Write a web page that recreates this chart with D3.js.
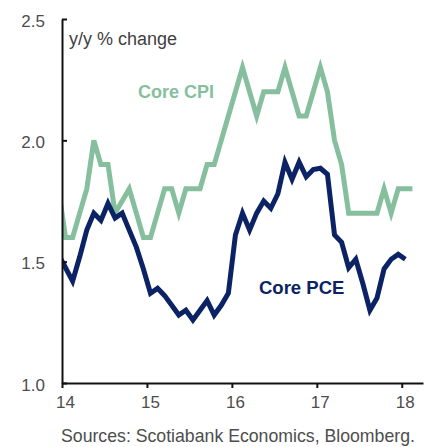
<!DOCTYPE html>
<html>
<head>
<meta charset="utf-8">
<script src="https://cdn.jsdelivr.net/npm/d3@7"></script>
<style>
  html, body { margin: 0; padding: 0; background: #fff; }
  svg { display: block; }
</style>
</head>
<body>
<div id="chart"></div>
<script>
// monthly y/y % change, first point is Dec 2013
const startYear = 13;
const startMonth = 11; // 0-based, December
const coreCpi = [
    1.8,
    1.6, 1.6, 1.7, 1.8, 2.0, 1.9, 1.9, 1.7, 1.75, 1.8, 1.7, 1.6,
    1.6, 1.7, 1.8, 1.8, 1.7, 1.8, 1.8, 1.8, 1.9, 1.9, 2.0, 2.1,
    2.2, 2.3, 2.2, 2.1, 2.2, 2.2, 2.2, 2.3, 2.2, 2.1, 2.1, 2.2,
    2.3, 2.2, 2.0, 1.9, 1.7, 1.7, 1.7, 1.7, 1.7, 1.8, 1.7, 1.8,
    1.8, 1.8
];
const corePce = [
    1.53,
    1.475, 1.42, 1.52, 1.63, 1.70, 1.67, 1.74, 1.68, 1.70, 1.63, 1.56, 1.47,
    1.37, 1.39, 1.36, 1.32, 1.28, 1.30, 1.26, 1.30, 1.34, 1.28, 1.32, 1.37,
    1.61, 1.70, 1.63, 1.70, 1.75, 1.72, 1.78, 1.91, 1.84, 1.91, 1.85, 1.88,
    1.885, 1.86, 1.61, 1.58, 1.475, 1.51, 1.41, 1.30, 1.35, 1.47, 1.51, 1.53,
    1.51
];
const yTicks = [1.0, 1.5, 2.0, 2.5];
const xTicks = [14, 15, 16, 17, 18];

const COLORS = { cpi: '#86bf9d', pce: '#0b2364', text: '#4d4d4d', axis: '#111' };
const FONT = "'Liberation Sans', Arial, sans-serif";

const width = 443, height = 447;
const plot = { left: 62, right: 423, top: 19, bottom: 383 };

const svg = d3.select('#chart').append('svg').attr('width', width).attr('height', height);

const x = d3.scaleLinear().domain([14, 18.25]).range([plot.left, plot.right]);
const y = d3.scaleLinear().domain([1.0, 2.5]).range([plot.bottom, plot.top]);

// month index -> fractional year, plotted mid-month
const toPoints = vals => vals.map((v, i) => ({
    t: startYear + (startMonth + i + 0.5) / 12,
    v
}));

svg.append('clipPath').attr('id', 'plotClip')
    .append('rect')
    .attr('x', plot.left).attr('y', 0)
    .attr('width', plot.right - plot.left).attr('height', plot.bottom);

const line = d3.line().x(d => x(d.t)).y(d => y(d.v));

const lines = svg.append('g').attr('clip-path', 'url(#plotClip)');
lines.append('path')
    .datum(toPoints(coreCpi))
    .attr('d', line)
    .attr('fill', 'none')
    .attr('stroke', COLORS.cpi)
    .attr('stroke-width', 5);
lines.append('path')
    .datum(toPoints(corePce))
    .attr('d', line)
    .attr('fill', 'none')
    .attr('stroke', COLORS.pce)
    .attr('stroke-width', 5);

// axes
const yAxis = svg.append('g')
    .attr('transform', `translate(${plot.left},0)`)
    .call(d3.axisLeft(y).tickValues(yTicks).tickFormat(d3.format('.1f'))
        .tickSizeInner(-5).tickSizeOuter(0).tickPadding(17));

const xAxis = svg.append('g')
    .attr('transform', `translate(0,${plot.bottom})`)
    .call(d3.axisBottom(x).tickValues(xTicks).tickFormat(d => d)
        .tickSizeInner(5).tickSizeOuter(0).tickPadding(8));

[yAxis, xAxis].forEach(a => {
    a.select('.domain').attr('stroke', COLORS.axis).attr('stroke-width', 2);
    a.selectAll('.tick line').attr('stroke', COLORS.axis).attr('stroke-width', 2);
    a.selectAll('.tick text')
        .attr('fill', COLORS.text)
        .attr('font-family', FONT)
        .attr('font-size', 17);
});
yAxis.selectAll('.tick text').attr('dy', '0.42em');
xAxis.selectAll('.tick text').attr('dx', 3);

// labels
svg.append('text')
    .attr('x', 69).attr('y', 45)
    .attr('fill', '#3f3f3f')
    .attr('font-family', FONT).attr('font-size', 18)
    .text('y/y % change');

svg.append('text')
    .attr('x', 138).attr('y', 98)
    .attr('fill', COLORS.cpi)
    .attr('font-family', FONT).attr('font-size', 18).attr('font-weight', 700)
    .text('Core CPI');

svg.append('text')
    .attr('x', 259).attr('y', 294)
    .attr('fill', COLORS.pce)
    .attr('font-family', FONT).attr('font-size', 18.5).attr('font-weight', 700)
    .text('Core PCE');

svg.append('text')
    .attr('x', 61).attr('y', 441.5)
    .attr('fill', COLORS.text)
    .attr('font-family', FONT).attr('font-size', 17.7)
    .text('Sources: Scotiabank Economics, Bloomberg.');
</script>
</body>
</html>
